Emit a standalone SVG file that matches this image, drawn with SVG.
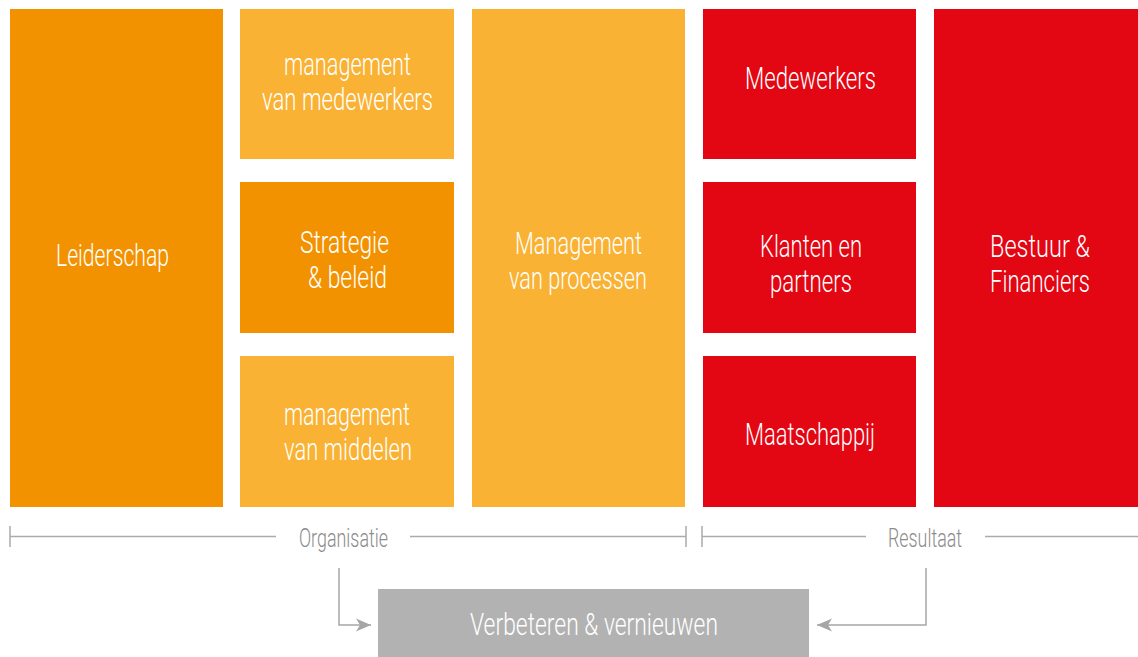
<svg xmlns="http://www.w3.org/2000/svg" width="1138" height="657" viewBox="0 0 1138 657">
  <defs>
    <style>
      .dark { fill: #F39200; }
      .light { fill: #F9B233; }
      .red { fill: #E30613; }
      .grey { fill: #B2B2B2; }
      .lbl { font-family: Roboto, "DejaVu Sans Condensed", sans-serif; font-weight: 300; font-size: 31px; fill: #FFFFFF; text-anchor: middle; }
      .cap { font-family: Roboto, "DejaVu Sans Condensed", sans-serif; font-weight: 300; font-size: 26px; fill: #8C8C8C; text-anchor: middle; }
      .rule { stroke: #ABABAB; stroke-width: 1.5; fill: none; }
      .flow { stroke: #A6A6A6; stroke-width: 1.5; fill: none; marker-end: url(#head); }
    </style>
    <marker id="head" markerUnits="userSpaceOnUse" markerWidth="16" markerHeight="14" viewBox="0 0 16 14" refX="15" refY="7" orient="auto">
      <path d="M0,0.5 L15,7 L0,13.5 L4,7 Z" fill="#A6A6A6"/>
    </marker>
  </defs>

  <!-- Organisatie: enablers -->
  <g id="leiderschap">
    <rect class="dark" x="10" y="9" width="213" height="498"/>
    <text class="lbl" x="112.5" y="266" textLength="113" lengthAdjust="spacingAndGlyphs">Leiderschap</text>
  </g>
  <g id="management-medewerkers">
    <rect class="light" x="240" y="9" width="214" height="150"/>
    <text class="lbl" x="347.5" y="75" textLength="127" lengthAdjust="spacingAndGlyphs">management</text>
    <text class="lbl" x="347.5" y="110" textLength="171" lengthAdjust="spacingAndGlyphs">van medewerkers</text>
  </g>
  <g id="strategie-beleid">
    <rect class="dark" x="240" y="182" width="214" height="151"/>
    <text class="lbl" x="344.5" y="253" textLength="89" lengthAdjust="spacingAndGlyphs">Strategie</text>
    <text class="lbl" x="347.5" y="288" textLength="79" lengthAdjust="spacingAndGlyphs">&amp; beleid</text>
  </g>
  <g id="management-middelen">
    <rect class="light" x="240" y="356" width="214" height="151"/>
    <text class="lbl" x="347" y="425" textLength="126" lengthAdjust="spacingAndGlyphs">management</text>
    <text class="lbl" x="348" y="460" textLength="128" lengthAdjust="spacingAndGlyphs">van middelen</text>
  </g>
  <g id="management-processen">
    <rect class="light" x="472" y="9" width="213" height="498"/>
    <text class="lbl" x="578.5" y="254" textLength="127" lengthAdjust="spacingAndGlyphs">Management</text>
    <text class="lbl" x="578" y="289" textLength="138" lengthAdjust="spacingAndGlyphs">van processen</text>
  </g>

  <!-- Resultaat -->
  <g id="medewerkers">
    <rect class="red" x="703" y="9" width="213" height="150"/>
    <text class="lbl" x="810.5" y="89" textLength="131" lengthAdjust="spacingAndGlyphs">Medewerkers</text>
  </g>
  <g id="klanten-partners">
    <rect class="red" x="703" y="182" width="213" height="151"/>
    <text class="lbl" x="811" y="257" textLength="102" lengthAdjust="spacingAndGlyphs">Klanten en</text>
    <text class="lbl" x="811" y="292" textLength="82" lengthAdjust="spacingAndGlyphs">partners</text>
  </g>
  <g id="maatschappij">
    <rect class="red" x="703" y="356" width="213" height="151"/>
    <text class="lbl" x="810" y="445" textLength="130" lengthAdjust="spacingAndGlyphs">Maatschappij</text>
  </g>
  <g id="bestuur-financiers">
    <rect class="red" x="934" y="9" width="204" height="498"/>
    <text class="lbl" x="1040" y="257" textLength="100" lengthAdjust="spacingAndGlyphs">Bestuur &amp;</text>
    <text class="lbl" x="1040" y="292" textLength="100" lengthAdjust="spacingAndGlyphs">Financiers</text>
  </g>

  <!-- Verbeteren -->
  <g id="verbeteren-vernieuwen">
    <rect class="grey" x="378" y="589" width="431" height="68"/>
    <text class="lbl" x="594" y="635" textLength="248" lengthAdjust="spacingAndGlyphs">Verbeteren &amp; vernieuwen</text>
  </g>

  <!-- Range brackets -->
  <g id="organisatie-range">
    <path class="rule" d="M10,526 V547 M10,536.5 H276 M410,536.5 H686 M686,526 V547"/>
    <text class="cap" x="343.5" y="547" textLength="89" lengthAdjust="spacingAndGlyphs">Organisatie</text>
  </g>
  <g id="resultaat-range">
    <path class="rule" d="M702,526 V547 M702,536.5 H866 M985,536.5 H1138"/>
    <text class="cap" x="925" y="547" textLength="74" lengthAdjust="spacingAndGlyphs">Resultaat</text>
  </g>

  <!-- Feedback connectors -->
  <g id="connectors">
    <path class="flow" d="M339,568 V625 H371"/>
    <path class="flow" d="M926,568 V625 H817"/>
  </g>
</svg>
